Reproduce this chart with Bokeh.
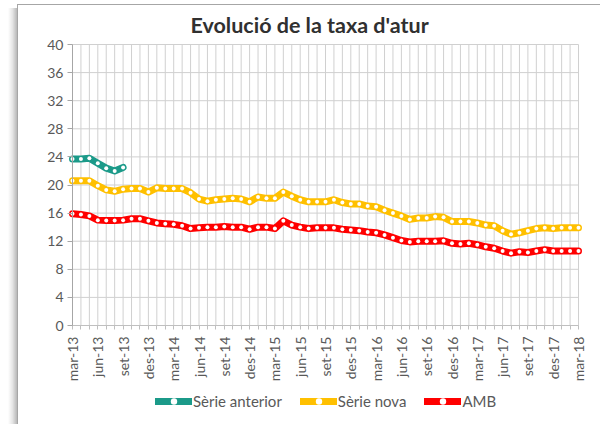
import math
from bokeh.plotting import figure
from bokeh.models import Range1d, FixedTicker, Legend, LegendItem, LinearAxis
from bokeh.embed import file_html
from bokeh.resources import INLINE

months = [
    "mar-13", "abr-13", "mai-13", "jun-13", "jul-13", "ago-13", "set-13", "oct-13", "nov-13", "des-13",
    "gen-14", "feb-14", "mar-14", "abr-14", "mai-14", "jun-14", "jul-14", "ago-14", "set-14", "oct-14", "nov-14", "des-14",
    "gen-15", "feb-15", "mar-15", "abr-15", "mai-15", "jun-15", "jul-15", "ago-15", "set-15", "oct-15", "nov-15", "des-15",
    "gen-16", "feb-16", "mar-16", "abr-16", "mai-16", "jun-16", "jul-16", "ago-16", "set-16", "oct-16", "nov-16", "des-16",
    "gen-17", "feb-17", "mar-17", "abr-17", "mai-17", "jun-17", "jul-17", "ago-17", "set-17", "oct-17", "nov-17", "des-17",
    "gen-18", "feb-18", "mar-18",
]

tick_labels = [
    "mar-13", "jun-13", "set-13", "des-13", "mar-14", "jun-14", "set-14", "des-14",
    "mar-15", "jun-15", "set-15", "des-15", "mar-16", "jun-16", "set-16", "des-16",
    "mar-17", "jun-17", "set-17", "des-17", "mar-18",
]

y_ticks = [0, 4, 8, 12, 16, 20, 24, 28, 32, 36, 40]

serie_anterior = [23.7, 23.7, 23.8, 23.1, 22.4, 22.0, 22.5]

serie_nova = [
    20.6, 20.6, 20.6, 19.9, 19.3, 19.1, 19.4, 19.5, 19.5, 19.0,
    19.6, 19.5, 19.5, 19.5, 18.9, 18.0, 17.7, 17.9, 18.0, 18.1,
    18.0, 17.6, 18.3, 18.1, 18.1, 19.0, 18.4, 17.9, 17.6, 17.6,
    17.6, 17.9, 17.5, 17.3, 17.3, 17.0, 16.9, 16.4, 16.0, 15.6,
    15.1, 15.3, 15.3, 15.5, 15.4, 14.8, 14.8, 14.8, 14.6, 14.3,
    14.2, 13.5, 13.0, 13.2, 13.5, 13.8, 13.9, 13.8, 13.9, 13.9,
    13.9,
]

amb = [
    15.9, 15.8, 15.6, 15.0, 14.95, 14.95, 15.0, 15.2, 15.2, 14.9,
    14.6, 14.5, 14.4, 14.2, 13.8, 13.9, 14.0, 14.0, 14.1, 14.0,
    14.0, 13.7, 14.0, 14.0, 13.8, 14.9, 14.3, 14.0, 13.8, 13.9,
    13.9, 13.9, 13.7, 13.6, 13.5, 13.3, 13.2, 12.9, 12.5, 12.1,
    11.9, 12.0, 12.0, 12.0, 12.05, 11.7, 11.6, 11.7, 11.5, 11.2,
    11.0, 10.6, 10.3, 10.5, 10.4, 10.6, 10.8, 10.6, 10.6, 10.6,
    10.6,
]

series = [
    ("Sèrie anterior", serie_anterior, "#1b9a89"),
    ("Sèrie nova", serie_nova, "#ffc000"),
    ("AMB", amb, "#ff0000"),
]

FONT = "Lato"
TEXT = "#595959"
GRID = "#d0d0d0"

# layout (pixels): data area 506 x 281, extra room inside the frame for labels and legend
PX_PER_MONTH = 506 / (len(months) - 1)
PAD_LEFT, PAD_RIGHT = 38, 12
DATA_PX, EXTRA_PX, TOP_PX = 281, 99, 10
Y_MAX = y_ticks[-1]
PX_PER_UNIT = DATA_PX / Y_MAX
x_lo = -PAD_LEFT / PX_PER_MONTH
x_hi = (len(months) - 1) + PAD_RIGHT / PX_PER_MONTH
y_lo = -EXTRA_PX / PX_PER_UNIT
y_hi = Y_MAX + TOP_PX / PX_PER_UNIT

p = figure(
    frame_width=506 + PAD_LEFT + PAD_RIGHT, frame_height=DATA_PX + EXTRA_PX + TOP_PX,
    x_range=Range1d(x_lo, x_hi), y_range=Range1d(y_lo, y_hi),
    output_backend="svg", toolbar_location=None,
    x_axis_location=None, y_axis_location=None,
    min_border_left=34, min_border_top=40 - TOP_PX, min_border_right=10, min_border_bottom=0,
    title="Evolució de la taxa d'atur",
)
p.margin = (4, 0, 0, 0)
p.styles = {
    "background-image": ", ".join([
        "linear-gradient(#a6a6a6, #a6a6a6)",
        "linear-gradient(#a6a6a6, #a6a6a6)",
        "linear-gradient(to right, rgba(0,0,0,0) 0%, rgba(0,0,0,0.10) 50%, rgba(0,0,0,0.28) 100%)",
    ]),
    "background-size": "100% 1px, 1px 100%, 9px 100%",
    "background-position": "17px 0px, 17px 0px, 8px 4px",
    "background-repeat": "no-repeat",
}
p.background_fill_color = "white"
p.border_fill_color = None
p.outline_line_color = None

p.title.align = "left"
p.title.offset = 156
p.title.text_font = FONT
p.title.text_font_size = "21.5px"
p.title.text_font_style = "bold"
p.title.text_color = "#303030"
p.title.standoff = 4 - TOP_PX

# grid lines limited to the data area
p.xgrid.visible = False
p.ygrid.visible = False
month_idx = list(range(len(months)))
p.segment(x0=month_idx, y0=[y_ticks[0]] * len(months), x1=month_idx, y1=[Y_MAX] * len(months),
          line_color=GRID, line_width=1, level="underlay")
p.segment(x0=[month_idx[0]] * len(y_ticks), y0=y_ticks, x1=[month_idx[-1]] * len(y_ticks), y1=y_ticks,
          line_color=GRID, line_width=1, level="underlay")

# x axis at y = 0, a tick at every month, a label every three months
xaxis = LinearAxis(fixed_location=0)
xaxis.ticker = FixedTicker(ticks=month_idx)
xaxis.major_label_overrides = {i: (m if m in tick_labels else "") for i, m in enumerate(months)}
xaxis.major_label_orientation = math.pi / 2
xaxis.major_tick_in = 0
xaxis.major_tick_out = 4
xaxis.major_tick_line_color = "#bfbfbf"
xaxis.minor_tick_line_color = None
xaxis.major_label_standoff = 7
xaxis.axis_line_color = "#bfbfbf"
xaxis.bounds = (month_idx[0], month_idx[-1])
p.add_layout(xaxis, "below")

# y axis at x = 0
yaxis = LinearAxis(fixed_location=0)
yaxis.ticker = FixedTicker(ticks=y_ticks)
yaxis.bounds = (y_ticks[0], Y_MAX)
yaxis.major_tick_in = 0
yaxis.major_tick_out = 5
yaxis.major_tick_line_color = "#a6a6a6"
yaxis.minor_tick_line_color = None
yaxis.major_label_standoff = 4
yaxis.axis_line_color = "#a6a6a6"
p.add_layout(yaxis, "left")

for ax in (xaxis, yaxis):
    ax.major_label_text_font = FONT
    ax.major_label_text_font_size = "14px"
    ax.major_label_text_color = TEXT

items = []
for name, vals, color in series:
    xs = list(range(len(vals)))
    rl = p.line(xs, vals, line_color=color, line_width=7, line_join="round", line_cap="round")
    rs = p.scatter(xs, vals, size=4, fill_color="white", line_color=None)
    items.append(LegendItem(label=name, renderers=[rl, rs]))

legend = Legend(
    items=items, orientation="horizontal", location=(83 + PAD_LEFT, 14),
    border_line_color=None, background_fill_alpha=0,
    glyph_width=37, glyph_height=16, label_standoff=1, spacing=18,
    padding=0, margin=0, label_height=16,
    label_text_font=FONT, label_text_font_size="15px", label_text_color=TEXT,
)
p.add_layout(legend, "center")

open("out.html", "w").write(file_html(p, INLINE))
